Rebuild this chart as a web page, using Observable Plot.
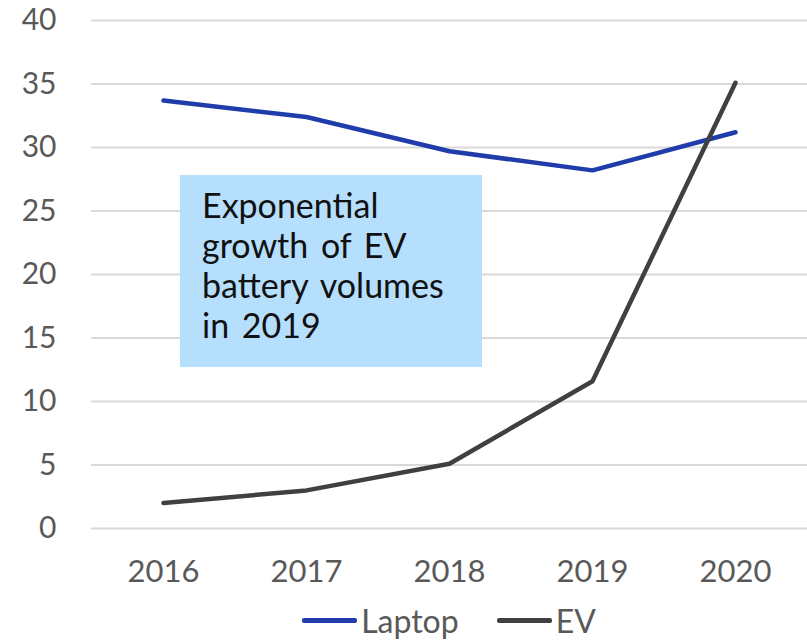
<!DOCTYPE html>
<html>
<head>
<meta charset="utf-8">
<script src="https://cdn.jsdelivr.net/npm/d3@7"></script>
<script src="https://cdn.jsdelivr.net/npm/@observablehq/plot@0.6"></script>
<style>
  html, body { margin: 0; padding: 0; background: #fff; }
  body { width: 807px; height: 641px; position: relative; overflow: hidden; font-family: Lato, "Noto Sans", sans-serif; }
  #chart { position: absolute; left: 0; top: 0; }
  #note {
    position: absolute; left: 180px; top: 175px; width: 302px; height: 192px;
    background: #b5dffc; box-sizing: border-box; padding: 10px 0 0 22px;
    font-size: 34px; line-height: 40px; color: #111; word-spacing: 4px;
  }
  #legend {
    position: absolute; left: 91px; top: 600px; width: 716px; height: 41px;
    display: flex; justify-content: center; align-items: center; gap: 0;
    font-size: 32px; color: #595959;
  }
  .item { display: flex; align-items: center; margin: 0 19px; }
  .swatch { width: 55px; height: 4.5px; border-radius: 2px; margin-right: 4px; }
</style>
</head>
<body>
<div id="chart"></div>
<div id="note">Exponential<br>growth of EV<br>battery volumes<br>in 2019</div>
<div id="legend"></div>
<script>
const years = ["2016", "2017", "2018", "2019", "2020"];
const laptop = [33.7, 32.4, 29.7, 28.2, 31.2];
const ev = [2.0, 3.0, 5.1, 11.6, 35.1];
const yTicks = [0, 5, 10, 15, 20, 25, 30, 35, 40];
const seriesNames = ["Laptop", "EV"];
const seriesColors = ["#1f3caa", "#404040"];

const data = [
  ...years.map((y, i) => ({year: y, value: laptop[i], series: "Laptop"})),
  ...years.map((y, i) => ({year: y, value: ev[i], series: "EV"}))
];

const chart = Plot.plot({
  width: 807,
  height: 600,
  marginLeft: 91,
  marginRight: 0,
  marginTop: 20,
  marginBottom: 72,
  style: {fontFamily: "Lato, 'Noto Sans', sans-serif", fontSize: "30px", color: "#595959", background: "#fff"},
  x: {type: "point", domain: years, padding: 0.5, label: null},
  y: {domain: [0, 40], ticks: yTicks, label: null},
  color: {domain: seriesNames, range: seriesColors},
  marks: [
    Plot.ruleY(yTicks, {stroke: "#d9d9d9", strokeWidth: 2}),
    Plot.axisY({ticks: yTicks, tickSize: 0, tickPadding: 35, fill: "#595959", label: null, fontSize: 30}),
    Plot.axisX({tickSize: 0, tickPadding: 31, fill: "#595959", label: null, fontSize: 31}),
    Plot.line(data, {x: "year", y: "value", z: "series", stroke: "series", strokeWidth: 4.5, strokeLinecap: "round", strokeLinejoin: "round"})
  ]
});
document.getElementById("chart").appendChild(chart);

const legend = document.getElementById("legend");
seriesNames.forEach((name, i) => {
  const item = document.createElement("div");
  item.className = "item";
  const sw = document.createElement("div");
  sw.className = "swatch";
  sw.style.background = seriesColors[i];
  const label = document.createElement("span");
  label.textContent = name;
  item.appendChild(sw);
  item.appendChild(label);
  legend.appendChild(item);
});
</script>
</body>
</html>
